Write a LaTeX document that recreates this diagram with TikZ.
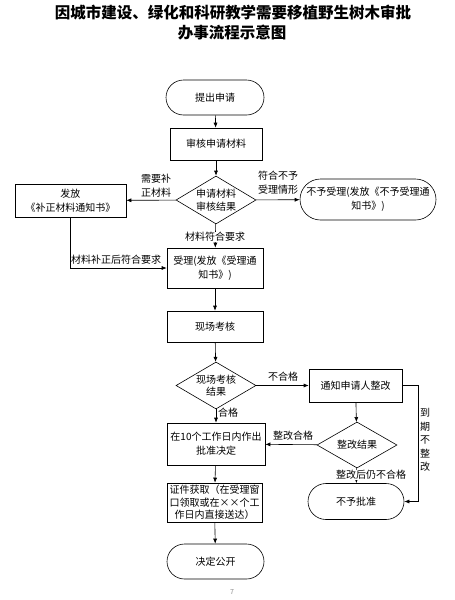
\documentclass[tikz,border=0pt]{standalone}
\usepackage{fontspec}
\setmainfont{Noto Sans CJK SC}
\usetikzlibrary{arrows.meta}
\usetikzlibrary{shapes.geometric}
\usetikzlibrary{shapes.misc}
\begin{document}
\begin{tikzpicture}
	[x=1pt, y=-1pt,
	font=\fontsize{10}{14}\selectfont,
	every node/.style={align=center},
	proc/.style={draw, line width=0.6pt, inner sep=1pt},
	term/.style={draw, line width=0.6pt, rounded rectangle, inner sep=1pt},
	decide/.style={draw, line width=0.6pt, diamond, aspect=1.7, inner sep=0pt,
		minimum width=80pt, minimum height=47pt, font=\fontsize{10}{12.5}\selectfont},
	lab/.style={inner sep=0.5pt},
	flow/.style={line width=0.6pt, -{Latex[length=5pt,width=4pt]}}]
	\useasboundingbox (0,0) rectangle (455,600);
	% title
	\node (title1) at (233,13) {\fontsize{15.5}{18}\selectfont\bfseries 因城市建设、绿化和科研教学需要移植野生树木审批};
	\node (title2) at (232,33) {\fontsize{15.5}{18}\selectfont\bfseries 办事流程示意图};
	% main column
	\node[term, minimum width=100pt, minimum height=35pt] (apply) at (215,97.5) {提出申请};
	\node[proc, minimum width=92pt, minimum height=32pt] (check) at (216,144) {审核申请材料};
	\node[decide, minimum height=48pt] (result1) at (216,200) {申请材料\\审核结果};
	\node[proc, minimum width=111pt, minimum height=33pt] (notice) at (70.5,200.5) {发放\\《补正材料通知书》};
	\node[term, minimum width=138pt, minimum height=41pt] (refuse) at (368,199.5) {不予受理(发放《不予受理通\\知书》)};
	\node[proc, minimum width=96pt, minimum height=40pt] (accept) at (215,268) {受理(发放《受理通\\知书》)};
	\node[proc, minimum width=96pt, minimum height=31pt] (site) at (215,326.5) {现场考核};
	\node[decide] (result2) at (216,385.5) {现场考核\\结果};
	\node[proc, minimum width=93pt, minimum height=33pt] (rectify) at (355.5,385.5) {通知申请人整改};
	\node[proc, minimum width=98pt, minimum height=42pt] (approve) at (216,444) {在10个工作日内作出\\批准决定};
	\node[decide, minimum height=46pt] (result3) at (357,445) {整改结果};
	\node[term, minimum width=98pt, minimum height=36pt] (deny) at (356,501.5) {不予批准};
	\node[proc, minimum width=95pt, minimum height=39pt, font=\fontsize{10}{12.5}\selectfont] (cert) at (214.5,502.5) {证件获取（在受理窗\\口领取或在××个工\\作日内直接送达）};
	\node[term, minimum width=99pt, minimum height=35pt] (publish) at (215.5,561.5) {决定公开};
	\coordinate (late) at (418,385.5);
	% connectors
	\draw[flow] (apply) -- (check);
	\draw[flow] (check) -- (result1);
	\draw[flow] (result1) -- (notice);
	\draw[flow] (result1) -- (refuse);
	\draw[flow] (result1) -- (accept);
	\draw[flow] (notice.south) |- (accept.west);
	\draw[flow] (accept) -- (site);
	\draw[flow] (site) -- (result2);
	\draw[flow] (result2) -- (rectify);
	\draw[flow] (result2) -- (approve);
	\draw[flow] (rectify) -- (result3);
	\draw[flow] (result3) -- (approve);
	\draw[flow] (result3) -- (deny);
	\draw[flow] (rectify.east) -- (late) |- (deny.east);
	\draw[flow] (approve) -- (cert);
	\draw[flow] (cert) -- (publish);
	% labels
	\node[lab] (needmore) at (156,186) {需要补\\正材料};
	\node[lab] (refusecase) at (278,183) {符合不予\\受理情形};
	\node[lab, fill=white] (meets) at (215,237) {材料符合要求};
	\node[lab] (fixed) at (116,260) {材料补正后符合要求};
	\node[lab] (fail) at (283,377) {不合格};
	\node[lab] (pass) at (228,413) {合格};
	\node[lab] (fixpass) at (293,436) {整改合格};
	\node[lab, fill=white] (stillfail) at (371,475) {整改后仍不合格};
	\node[lab, font=\fontsize{10}{13.5}\selectfont] (overdue) at (425,440) {到\\期\\不\\整\\改};
	\node[text=black!45, font=\fontsize{7}{8}\selectfont] (page) at (232,592) {7};
\end{tikzpicture}
\end{document}
